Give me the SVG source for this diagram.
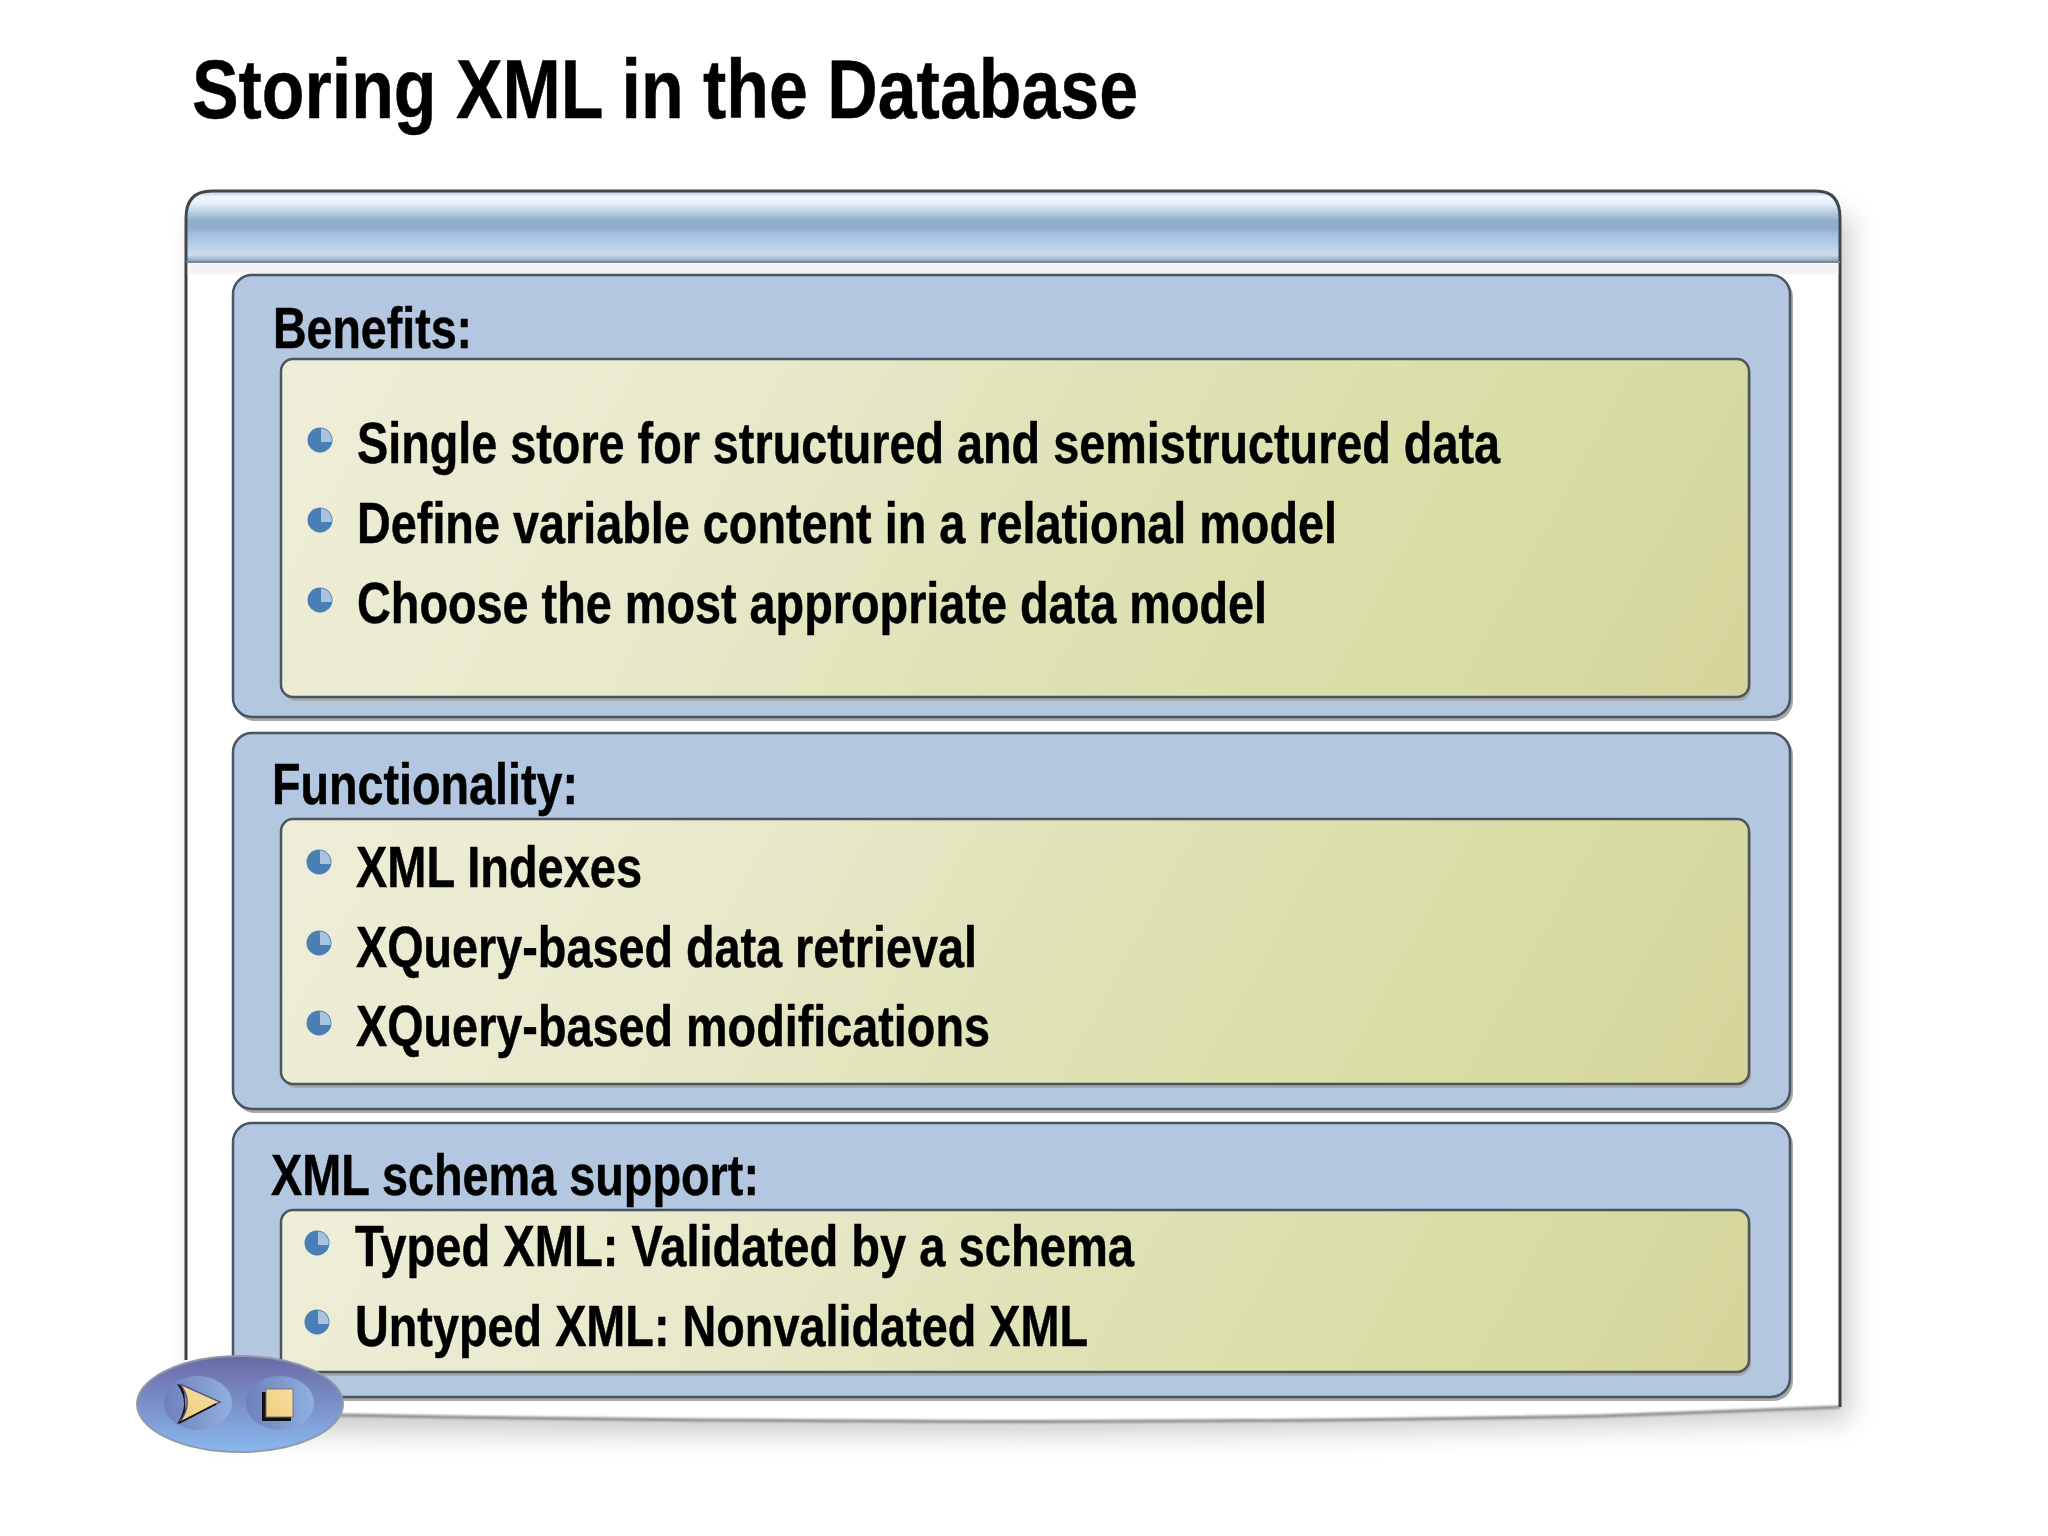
<svg xmlns="http://www.w3.org/2000/svg" width="2048" height="1536" viewBox="0 0 2048 1536">
<style>
text{font-family:"Liberation Sans",Arial,sans-serif;font-weight:700;fill:#000;stroke:#000;stroke-width:.5}
.title{font-size:84px}
.t{font-size:57px}
.panel{fill:#b3c7e0;stroke:#4a5560;stroke-width:2.5}
.inner{stroke:#4a5560;stroke-width:2.5}
.sh{fill:#a8a8a8;stroke:none}
</style>
<defs>
<linearGradient id="hg" x1="0" y1="0" x2="0" y2="1">
<stop offset="0" stop-color="#b9c6dc"/><stop offset=".08" stop-color="#f1f8ff"/><stop offset=".18" stop-color="#e4eef8"/><stop offset=".42" stop-color="#8fadcc"/><stop offset=".52" stop-color="#8fadcc"/><stop offset=".62" stop-color="#a5c1de"/><stop offset=".9" stop-color="#cbdcee"/><stop offset=".97" stop-color="#92b3cb"/><stop offset="1" stop-color="#8aa5b8"/>
</linearGradient>
<linearGradient id="ig1" gradientUnits="userSpaceOnUse" x1="281" y1="359" x2="1551" y2="1057">
<stop offset="0" stop-color="#eeedd8"/><stop offset=".3" stop-color="#e8e9cb"/><stop offset=".5" stop-color="#e0e3b8"/><stop offset=".8" stop-color="#d8dda4"/><stop offset="1" stop-color="#d4d59b"/>
</linearGradient>
<linearGradient id="ig2" href="#ig1" x1="281" y1="819" x2="1520" y2="1500"/>
<linearGradient id="ig3" href="#ig1" x1="281" y1="1210" x2="1476" y2="1867"/>
<linearGradient id="ov" x1="0" y1="0" x2="0" y2="1">
<stop offset="0" stop-color="#6a68a4"/><stop offset="1" stop-color="#8ab8ee"/>
</linearGradient>
<linearGradient id="ci" x1="0" y1="0" x2="1" y2="0">
<stop offset="0" stop-color="#6e80b8"/><stop offset="1" stop-color="#8fb0e0"/>
</linearGradient>
<linearGradient id="go" x1="0" y1="1" x2="1" y2="0">
<stop offset="0" stop-color="#f0cf78"/><stop offset="1" stop-color="#f3dea2"/>
</linearGradient>
<filter id="bl" x="-5%" y="-5%" width="110%" height="110%"><feGaussianBlur stdDeviation="14"/></filter>
<filter id="bs" x="-5%" y="-20%" width="110%" height="140%"><feGaussianBlur stdDeviation="1"/></filter>
<g id="bullet">
<circle r="12.5" fill="#4a7fb5"/>
<path d="M1 -11.5A11.5 11.5 0 0 1 11.5 2L1 2Z" fill="#a8c2e0"/>
</g>
</defs>
<rect width="2048" height="1536" fill="#fff"/>
<g id="window">
<path d="M196 215H1850V1420Q1200 1440 340 1432H196Z" fill="#000" opacity=".2" filter="url(#bl)"/>
<path d="M186 262H1840V1407Q1700 1412 1600 1416Q1200 1423 900 1421Q600 1420 340 1415H186Z" fill="#fff"/>
<path d="M1840 1407Q1700 1412 1600 1416Q1200 1423 900 1421Q600 1420 340 1415" fill="none" stroke="#8a8a8a" stroke-width="3" filter="url(#bs)"/>
<path d="M186 262V1360M1840 262V1407" fill="none" stroke="#3c3f44" stroke-width="3"/>
<path d="M186 262V218Q186 191 212 191H1816Q1840 191 1840 218V262Z" fill="url(#hg)"/>
<path d="M186 262V218Q186 191 212 191H1816Q1840 191 1840 218V262" fill="none" stroke="#41464f" stroke-width="3"/>
<path d="M186 262H1840" stroke="#7d8288" stroke-width="2" fill="none"/>
<rect x="188" y="264" width="1650" height="10" fill="#ededed" opacity=".7" filter="url(#bs)"/>
</g>
<g id="panel-benefits">
<rect class="sh" x="235" y="277" width="1558" height="444" rx="20"/>
<rect class="panel" x="233" y="275" width="1557" height="442" rx="19"/>
<rect class="sh" x="283" y="361" width="1468" height="340" rx="13"/>
<rect class="inner" fill="url(#ig1)" x="281" y="359" width="1468" height="338" rx="12"/>
<text class="t" x="273" y="348" textLength="199" lengthAdjust="spacingAndGlyphs">Benefits:</text>
<use href="#bullet" x="320" y="440"/><text class="t" x="357" y="463" textLength="1143" lengthAdjust="spacingAndGlyphs">Single store for structured and semistructured data</text>
<use href="#bullet" x="320" y="520"/><text class="t" x="357" y="543" textLength="980" lengthAdjust="spacingAndGlyphs">Define variable content in a relational model</text>
<use href="#bullet" x="320" y="600"/><text class="t" x="357" y="623" textLength="910" lengthAdjust="spacingAndGlyphs">Choose the most appropriate data model</text>
</g>
<g id="panel-functionality">
<rect class="sh" x="235" y="735" width="1558" height="378" rx="20"/>
<rect class="panel" x="233" y="733" width="1557" height="376" rx="19"/>
<rect class="sh" x="283" y="821" width="1468" height="267" rx="13"/>
<rect class="inner" fill="url(#ig2)" x="281" y="819" width="1468" height="265" rx="12"/>
<text class="t" x="272" y="804" textLength="306" lengthAdjust="spacingAndGlyphs">Functionality:</text>
<use href="#bullet" x="319" y="862"/><text class="t" x="356" y="887" textLength="286" lengthAdjust="spacingAndGlyphs">XML Indexes</text>
<use href="#bullet" x="319" y="943"/><text class="t" x="356" y="967" textLength="621" lengthAdjust="spacingAndGlyphs">XQuery-based data retrieval</text>
<use href="#bullet" x="319" y="1023"/><text class="t" x="356" y="1046" textLength="634" lengthAdjust="spacingAndGlyphs">XQuery-based modifications</text>
</g>
<g id="panel-schema">
<rect class="sh" x="235" y="1125" width="1558" height="276" rx="20"/>
<rect class="panel" x="233" y="1123" width="1557" height="274" rx="19"/>
<rect class="sh" x="283" y="1212" width="1468" height="164" rx="13"/>
<rect class="inner" fill="url(#ig3)" x="281" y="1210" width="1468" height="162" rx="12"/>
<text class="t" x="271" y="1195" textLength="488" lengthAdjust="spacingAndGlyphs">XML schema support:</text>
<use href="#bullet" x="317" y="1243"/><text class="t" x="355" y="1266" textLength="779" lengthAdjust="spacingAndGlyphs">Typed XML: Validated by a schema</text>
<use href="#bullet" x="317" y="1322"/><text class="t" x="355" y="1346" textLength="733" lengthAdjust="spacingAndGlyphs">Untyped XML: Nonvalidated XML</text>
</g>
<g id="controls">
<ellipse cx="240" cy="1404" rx="103" ry="48" fill="url(#ov)" stroke="#8f9aa8" stroke-width="2"/>
<ellipse cx="198" cy="1403" rx="34" ry="27" fill="url(#ci)"/>
<ellipse cx="280" cy="1403" rx="34" ry="27" fill="url(#ci)"/>
<path d="M177 1384Q191 1403 177 1424L186 1420L184 1386Z" fill="#111"/>
<path d="M180 1384L220 1402L179 1423Q195 1403 180 1384Z" fill="url(#go)" stroke="#5f5488" stroke-width="1.5"/>
<path d="M179 1423L216 1404" stroke="#111" stroke-width="1.5" fill="none"/>
<rect x="262" y="1392" width="29" height="29" fill="#111"/>
<rect x="266" y="1389" width="27" height="28" fill="url(#go)" stroke="#7a7090" stroke-width="1"/>
</g>
<g id="title"><text class="title" x="192" y="118" textLength="946" lengthAdjust="spacingAndGlyphs">Storing XML in the Database</text></g>
</svg>
